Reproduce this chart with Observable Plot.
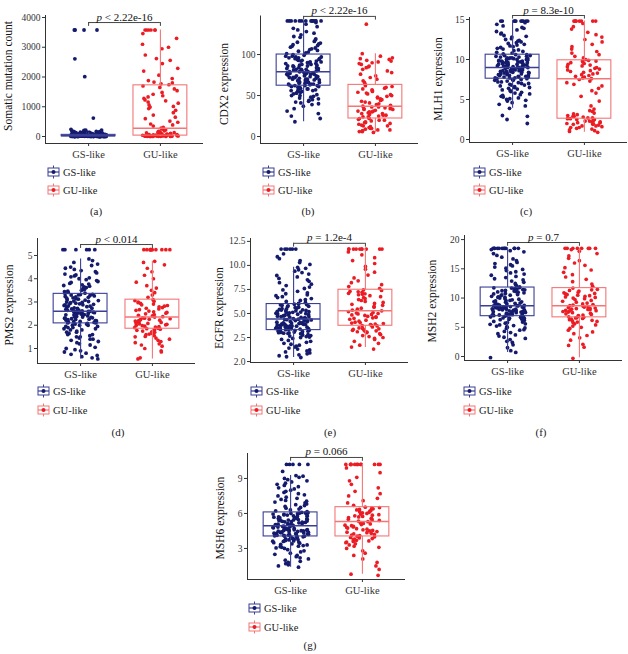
<!DOCTYPE html>
<html><head><meta charset="utf-8">
<script src="https://cdn.jsdelivr.net/npm/d3@7"></script>
<script src="https://cdn.jsdelivr.net/npm/@observablehq/plot@0.6"></script>
<style>
body{margin:0;background:#fff;}
#wrap{position:relative;width:628px;height:654px;overflow:hidden;font-family:"Liberation Serif","Times New Roman",serif;background:#fff;}
.ytitle{position:absolute;transform:translate(-50%,-50%) rotate(-90deg);white-space:nowrap;font-size:11.5px;color:#111;}
.leg{position:absolute;font-size:10.5px;color:#222;display:flex;align-items:center;height:14px;transform:translateY(-50%);}
.leg svg{margin-right:3px;}
.lab{position:absolute;font-size:11px;color:#222;transform:translate(-50%,-50%);}
</style></head><body><div id="wrap"></div><script>
const groups = ["GS-like", "GU-like"];

// (a) Somatic mutation count
const mutGS = [0,0,0,0,1,1,1,1,2,2,2,3,3,3,4,4,4,5,5,5,6,6,6,7,7,8,8,8,9,9,10,10,11,11,12,12,13,13,14,14,15,15,16,16,17,18,18,19,19,20,21,21,22,23,23,24,25,26,26,27,28,29,30,30,31,32,33,34,35,36,37,38,39,40,41,42,43,45,46,47,48,50,51,52,54,55,57,58,60,61,63,65,66,68,70,72,74,76,78,80,82,84,87,89,92,95,98,101,104,107,110,114,118,122,126,131,136,141,147,153,159,166,173,180,188,196,205,215,2,5,9,14,20,27,33,41,50,12,3,7,18,25,36,44,1,4,6,10,15,22,30,38,47,60,75,95,130,170,210,240,160,110,85,620,2010,2610,3580,3580,3580,3580];
const mutGU = [0,1,2,3,4,5,6,7,8,9,10,12,14,15,17,19,20,22,25,27,30,32,35,38,40,43,46,50,54,58,62,66,70,75,80,86,92,100,110,120,130,145,160,175,190,220,250,280,310,350,390,420,480,520,600,650,720,800,880,940,990,1010,1060,1120,1160,1200,1230,1280,1330,1370,1420,1480,1540,1600,1650,1700,1740,1770,1800,1830,1880,1950,2060,2200,2290,2450,2560,2620,2740,2950,3000,3100,3300,3460,3580,3580,3580,3580,3580,3580];
const mutBoxGS = [0, 8, 25, 55, 125];
const mutBoxGU = [0, 30, 280, 1720, 3580];
const mutTicks = [0, 1000, 2000, 3000, 4000];
const mutTickLabels = ["0", "1000", "2000", "3000", "4000"];

// (b) CDX2
const cdx2GS = [18,22,25,28,31,34,37,39,40,41,42,43,44,45,46,47,48,49,50,50,51,52,53,53,54,55,55,56,56,57,57,58,58,59,59,60,60,61,61,62,62,62,63,63,64,64,64,65,65,66,66,66,67,67,68,68,68,69,69,70,70,70,71,71,72,72,72,73,73,74,74,74,75,75,76,76,76,77,77,77,78,78,78,79,79,79,80,80,81,81,82,82,82,83,83,84,84,85,85,86,86,86,87,87,88,88,89,89,90,90,91,91,92,92,93,93,94,94,95,95,96,96,97,97,98,98,99,100,101,102,103,104,105,106,107,108,109,110,111,112,113,114,115,116,118,119,121,122,124,126,128,130,132,134,137,139,141,141,141,141,141,141,141,141,141,141,141,141,141,141];
const cdx2GU = [5,6,6,7,7,8,8,9,10,10,11,12,13,13,14,15,16,17,17,18,19,20,20,21,22,22,23,24,24,25,26,26,27,28,28,29,30,30,31,31,32,33,33,34,34,35,35,36,36,37,38,39,40,41,42,43,44,45,46,47,48,49,50,51,52,53,54,55,56,57,58,59,60,61,62,64,66,68,70,72,74,76,78,80,82,84,85,86,88,89,90,91,92,93,94,95,96,98,101,137];
const cdx2BoxGS = [18, 62, 79, 100, 141];
const cdx2BoxGU = [5, 22, 37, 63, 101];
const cdx2Ticks = [0, 50, 100];
const cdx2TickLabels = ["0", "50", "100"];

// (c) MLH1
const mlh1GS = [2.0,2.5,2.9,3.0,3.9,4.2,4.4,4.6,4.8,4.9,5.0,5.1,5.2,5.3,5.4,5.5,5.6,5.7,5.8,5.9,6.0,6.1,6.2,6.3,6.4,6.5,6.5,6.6,6.7,6.8,6.8,6.9,7.0,7.0,7.1,7.2,7.2,7.3,7.4,7.4,7.5,7.5,7.6,7.6,7.7,7.7,7.7,7.8,7.8,7.8,7.9,7.9,8.0,8.0,8.0,8.1,8.1,8.1,8.2,8.2,8.3,8.3,8.3,8.4,8.4,8.4,8.5,8.5,8.5,8.6,8.6,8.6,8.7,8.7,8.7,8.8,8.8,8.8,8.9,8.9,8.9,9.0,9.0,9.0,9.0,9.1,9.1,9.1,9.2,9.2,9.2,9.3,9.3,9.3,9.4,9.4,9.4,9.5,9.5,9.5,9.6,9.6,9.6,9.7,9.7,9.7,9.8,9.8,9.8,9.9,9.9,10.0,10.0,10.0,10.1,10.1,10.1,10.2,10.2,10.2,10.3,10.3,10.4,10.4,10.5,10.5,10.6,10.6,10.7,10.8,10.9,11.0,11.1,11.2,11.3,11.4,11.5,11.6,11.7,11.8,11.9,12.0,12.1,12.2,12.3,12.4,12.5,12.6,12.8,12.9,13.0,13.2,13.3,13.5,13.7,13.9,14.0,14.2,14.4,14.6,14.8,14.8,14.8,14.8,14.8,14.8,14.8,14.8,14.8,14.8];
const mlh1GU = [0.9,1.0,1.1,1.2,1.3,1.4,1.5,1.5,1.6,1.7,1.7,1.8,1.9,1.9,2.0,2.0,2.1,2.1,2.2,2.2,2.3,2.3,2.4,2.5,2.5,2.6,2.6,2.7,2.7,2.8,2.9,2.9,3.0,3.1,3.2,3.3,3.5,3.6,3.8,4.2,4.8,5.4,5.8,6.1,6.4,6.7,6.9,7.1,7.3,7.5,7.6,7.7,7.8,7.9,8.0,8.1,8.2,8.3,8.4,8.5,8.6,8.7,8.8,8.9,9.0,9.1,9.2,9.3,9.4,9.5,9.6,9.7,9.8,9.8,9.9,10.0,10.2,10.4,10.6,10.8,11.0,11.3,11.6,11.9,12.2,12.5,12.8,13.1,13.4,13.8,14.1,14.5,14.8,14.8,14.8,14.8,14.8,14.8,14.8,14.8];
const mlh1BoxGS = [3.9, 7.6, 9.0, 10.6, 14.8];
const mlh1BoxGU = [0.9, 2.6, 7.6, 9.9, 14.8];
const mlh1Ticks = [0, 5, 10, 15];
const mlh1TickLabels = ["0", "5", "10", "15"];

// (d) PMS2
const pms2GS = [0.55,0.6,0.65,0.7,0.75,0.8,0.85,0.9,0.95,1.0,1.05,1.15,1.2,1.25,1.3,1.35,1.4,1.4,1.45,1.5,1.5,1.55,1.6,1.6,1.65,1.7,1.7,1.75,1.8,1.8,1.85,1.85,1.9,1.9,1.95,1.95,2.0,2.0,2.0,2.05,2.05,2.08,2.1,2.1,2.12,2.14,2.15,2.16,2.18,2.2,2.2,2.22,2.24,2.25,2.26,2.28,2.3,2.3,2.32,2.34,2.35,2.36,2.38,2.4,2.4,2.42,2.44,2.45,2.46,2.48,2.5,2.5,2.51,2.52,2.53,2.54,2.55,2.56,2.57,2.58,2.58,2.59,2.6,2.6,2.6,2.62,2.64,2.65,2.67,2.68,2.7,2.72,2.73,2.75,2.77,2.78,2.8,2.82,2.83,2.85,2.87,2.88,2.9,2.92,2.93,2.95,2.97,2.98,3.0,3.02,3.04,3.06,3.08,3.1,3.12,3.14,3.16,3.18,3.2,3.22,3.24,3.26,3.28,3.3,3.31,3.32,3.33,3.35,3.38,3.41,3.44,3.47,3.5,3.53,3.56,3.59,3.62,3.65,3.68,3.71,3.74,3.77,3.8,3.84,3.88,3.92,3.96,4.0,4.04,4.08,4.12,4.16,4.2,4.25,4.3,4.35,4.4,4.45,4.5,4.57,4.63,4.7,4.78,4.85,5.25,5.25,5.25,5.25,5.25,5.25];
const pms2GU = [0.55,0.6,0.85,0.9,1.0,1.1,1.15,1.2,1.25,1.3,1.35,1.4,1.45,1.5,1.52,1.55,1.6,1.62,1.65,1.7,1.72,1.75,1.78,1.8,1.83,1.85,1.87,1.9,1.92,1.94,1.96,1.98,2.0,2.02,2.04,2.06,2.08,2.1,2.12,2.14,2.16,2.18,2.2,2.22,2.24,2.26,2.28,2.3,2.32,2.35,2.37,2.4,2.43,2.46,2.49,2.52,2.55,2.58,2.61,2.64,2.67,2.7,2.73,2.76,2.79,2.82,2.85,2.88,2.91,2.94,2.97,3.0,3.03,3.06,3.1,3.2,3.3,3.4,3.5,3.6,3.7,3.85,4.0,4.15,4.3,4.45,4.6,4.7,4.75,5.25,5.25,5.25,5.25,5.25,5.25,5.25,5.25,5.25,5.25,5.25];
const pms2BoxGS = [0.55, 2.08, 2.6, 3.35, 4.85];
const pms2BoxGU = [0.55, 1.85, 2.35, 3.1, 4.75];
const pms2Ticks = [1, 2, 3, 4, 5];
const pms2TickLabels = ["1", "2", "3", "4", "5"];

// (e) EGFR (bottom tick is labelled "2.0" in the original)
const egfrGS = [0.42,0.5,0.6,0.7,0.8,0.9,1.0,1.1,1.2,1.3,1.4,1.5,1.6,1.7,1.8,1.9,2.0,2.1,2.2,2.3,2.4,2.5,2.55,2.6,2.65,2.7,2.75,2.8,2.85,2.9,2.92,2.95,2.98,3.0,3.03,3.06,3.1,3.13,3.16,3.2,3.23,3.26,3.3,3.32,3.35,3.38,3.4,3.42,3.45,3.48,3.5,3.52,3.55,3.58,3.6,3.62,3.65,3.68,3.7,3.72,3.75,3.78,3.8,3.82,3.85,3.88,3.9,3.92,3.95,3.98,4.0,4.03,4.06,4.1,4.13,4.16,4.2,4.23,4.26,4.3,4.33,4.36,4.38,4.4,4.42,4.45,4.48,4.52,4.55,4.58,4.62,4.65,4.68,4.72,4.75,4.78,4.82,4.85,4.88,4.92,4.95,4.98,5.02,5.05,5.08,5.12,5.15,5.18,5.22,5.25,5.28,5.32,5.35,5.38,5.42,5.45,5.5,5.55,5.6,5.65,5.7,5.75,5.8,5.85,5.9,5.93,5.96,5.98,6.05,6.15,6.25,6.35,6.45,6.55,6.65,6.75,6.85,6.95,7.05,7.15,7.3,7.45,7.6,7.75,7.9,8.05,8.2,8.35,8.5,8.65,8.8,8.95,9.1,9.25,9.4,9.55,9.7,9.8,10.1,10.3,10.5,10.7,10.9,11.2,11.7,11.7,11.7,11.7,11.7,11.7];
const egfrGU = [1.3,1.5,1.7,1.9,2.1,2.3,2.4,2.5,2.6,2.7,2.8,2.9,3.0,3.05,3.1,3.15,3.2,3.25,3.3,3.35,3.4,3.45,3.5,3.6,3.7,3.75,3.8,3.85,3.9,3.95,4.0,4.05,4.1,4.2,4.3,4.4,4.5,4.55,4.6,4.65,4.7,4.8,4.85,4.9,4.95,5.0,5.05,5.1,5.2,5.28,5.35,5.45,5.55,5.65,5.75,5.85,5.95,6.05,6.15,6.25,6.35,6.45,6.55,6.65,6.75,6.85,6.95,7.0,7.05,7.1,7.2,7.25,7.3,7.4,7.45,7.6,7.8,8.0,8.2,8.4,8.7,9.0,9.3,9.6,9.9,10.2,10.5,10.8,11.1,11.4,11.7,11.7,11.7,11.7,11.7,11.7,11.7,11.7,11.7,11.7];
const egfrBoxGS = [0.42, 3.27, 4.42, 5.98, 9.8];
const egfrBoxGU = [1.46, 3.72, 5.28, 7.47, 11.7];
const egfrTicks = [0, 2.5, 5, 7.5, 10, 12.5];
const egfrTickLabels = ["2.0", "2.5", "5.0", "7.5", "10.0", "12.5"];

// (f) MSH2
const msh2GS = [-0.2,0.7,1.0,1.5,2.0,2.4,2.6,2.9,3.1,3.3,3.5,3.7,3.9,4.1,4.3,4.5,4.6,4.8,4.9,5.0,5.1,5.2,5.3,5.4,5.5,5.6,5.7,5.8,5.9,6.0,6.1,6.2,6.3,6.35,6.4,6.5,6.55,6.6,6.7,6.75,6.8,6.85,6.9,6.95,7.0,7.05,7.1,7.15,7.2,7.25,7.3,7.35,7.4,7.45,7.5,7.55,7.6,7.65,7.7,7.75,7.8,7.85,7.9,7.95,8.0,8.02,8.05,8.1,8.12,8.15,8.2,8.25,8.3,8.32,8.35,8.4,8.45,8.5,8.52,8.55,8.6,8.62,8.65,8.68,8.7,8.75,8.8,8.9,8.95,9.0,9.1,9.15,9.2,9.3,9.35,9.4,9.5,9.55,9.6,9.7,9.8,9.9,10.0,10.1,10.15,10.2,10.3,10.4,10.5,10.55,10.6,10.7,10.8,10.9,11.0,11.05,11.1,11.2,11.25,11.3,11.4,11.45,11.5,11.55,11.6,11.7,11.75,11.8,11.9,12.1,12.3,12.5,12.7,12.9,13.1,13.3,13.5,13.7,13.9,14.1,14.3,14.5,14.7,14.9,15.1,15.3,15.5,15.7,15.9,16.1,16.4,16.7,17.0,17.3,17.6,17.9,18.1,18.3,18.5,18.5,18.5,18.5,18.5,18.5,18.5,18.5,18.5,18.5,18.5,18.5];
const msh2GU = [-0.3,1.6,1.9,2.1,2.8,3.2,3.6,3.9,4.2,4.5,4.8,5.0,5.2,5.4,5.6,5.8,5.9,6.0,6.1,6.2,6.3,6.4,6.5,6.6,6.65,6.7,6.8,6.9,7.0,7.1,7.2,7.3,7.4,7.5,7.6,7.7,7.8,7.85,7.9,8.0,8.05,8.1,8.2,8.25,8.3,8.4,8.45,8.5,8.6,8.7,8.8,8.9,9.0,9.15,9.3,9.45,9.6,9.75,9.9,10.0,10.1,10.2,10.3,10.4,10.5,10.6,10.7,10.8,10.9,11.0,11.2,11.3,11.4,11.5,11.7,12.0,12.4,12.8,13.2,13.6,14.0,14.4,14.8,15.2,15.6,16.0,16.4,16.8,17.2,17.6,18.0,18.3,18.5,18.5,18.5,18.5,18.5,18.5,18.5,18.5];
const msh2BoxGS = [0.7, 6.9, 8.7, 11.8, 18.5];
const msh2BoxGU = [-0.2, 6.7, 8.7, 11.7, 18.5];
const msh2Ticks = [0, 5, 10, 15, 20];
const msh2TickLabels = ["0", "5", "10", "15", "20"];

// (g) MSH6
const msh6GS = [1.4,1.5,1.6,1.7,1.8,1.9,2.0,2.1,2.2,2.3,2.4,2.5,2.6,2.7,2.8,2.9,3.0,3.05,3.1,3.15,3.2,3.25,3.3,3.35,3.4,3.45,3.5,3.55,3.6,3.62,3.65,3.68,3.7,3.73,3.76,3.8,3.83,3.86,3.9,3.93,3.96,4.0,4.03,4.05,4.07,4.09,4.11,4.13,4.15,4.17,4.19,4.21,4.23,4.25,4.27,4.29,4.31,4.33,4.35,4.37,4.4,4.42,4.44,4.46,4.48,4.5,4.52,4.54,4.56,4.58,4.6,4.62,4.64,4.66,4.68,4.7,4.72,4.74,4.77,4.8,4.83,4.86,4.89,4.92,4.95,4.98,5.0,5.03,5.05,5.08,5.1,5.13,5.15,5.18,5.2,5.23,5.25,5.28,5.3,5.33,5.35,5.38,5.4,5.43,5.45,5.48,5.5,5.53,5.56,5.59,5.62,5.65,5.68,5.71,5.74,5.77,5.8,5.83,5.86,5.89,5.92,5.95,5.98,6.0,6.02,6.04,6.07,6.09,6.15,6.22,6.3,6.38,6.45,6.52,6.6,6.68,6.75,6.82,6.9,6.98,7.05,7.12,7.2,7.3,7.4,7.5,7.6,7.7,7.8,7.9,8.0,8.1,8.2,8.3,8.4,8.5,8.6,8.7,8.8,8.9,9.0,9.1,9.2,9.25,9.6,10.2,10.2,10.2,10.2,10.2];
const msh6GU = [0.7,0.8,1.2,1.5,1.8,2.1,2.4,2.6,2.8,3.0,3.1,3.2,3.3,3.4,3.5,3.55,3.6,3.65,3.7,3.75,3.8,3.85,3.9,3.95,4.0,4.05,4.1,4.15,4.2,4.25,4.3,4.35,4.4,4.45,4.5,4.55,4.6,4.65,4.7,4.75,4.8,4.85,4.9,4.95,5.0,5.05,5.1,5.15,5.2,5.3,5.35,5.4,5.45,5.5,5.55,5.6,5.65,5.7,5.75,5.8,5.85,5.9,5.95,6.0,6.05,6.1,6.15,6.2,6.25,6.3,6.35,6.4,6.45,6.5,6.54,6.7,6.9,7.1,7.3,7.5,7.7,7.9,8.2,8.5,8.8,9.1,9.5,9.9,10.2,10.2,10.2,10.2,10.2,10.2,10.2,10.2,10.2,10.2,10.2,10.2];
const msh6BoxGS = [1.4, 4.03, 4.95, 6.09, 9.25];
const msh6BoxGU = [0.8, 4.03, 5.31, 6.54, 10.2];
const msh6Ticks = [3, 6, 9];
const msh6TickLabels = ["3", "6", "9"];

const pValues = ["p < 2.22e-16", "p < 2.22e-16", "p = 8.3e-10", "p < 0.014", "p = 1.2e-4", "p = 0.7", "p = 0.066"];
const yTitles = ["Somatic mutation count", "CDX2 expression", "MLH1 expression", "PMS2 expression", "EGFR expression", "MSH2 expression", "MSH6 expression"];
const panelLabels = ["(a)", "(b)", "(c)", "(d)", "(e)", "(f)", "(g)"];

// colours
const ptGS = "#141a6c", lnGS = "#3a3f95";
const ptGU = "#ec1c24", lnGU = "#f37676";

// layout (pixel placement) for each panel
const panels = [
  {gs: mutGS, gu: mutGU, bGS: mutBoxGS, bGU: mutBoxGU, ticks: mutTicks, tl: mutTickLabels, left:0, top:0, x0:45, ytop:15, ybot:143, domain:[-235,4067], bY:3830, bD:130, tX:8, tY:76, legX:47, legY:[172,190], labX:96, labY:211},
  {gs: cdx2GS, gu: cdx2GU, bGS: cdx2BoxGS, bGU: cdx2BoxGU, ticks: cdx2Ticks, tl: cdx2TickLabels, left:210, top:0, x0:260, ytop:15.5, ybot:143, domain:[-8.5,147], bY:146.5, bD:4.5, tX:224, tY:84, legX:262, legY:[172,190], labX:308, labY:211},
  {gs: mlh1GS, gu: mlh1GU, bGS: mlh1BoxGS, bGU: mlh1BoxGU, ticks: mlh1Ticks, tl: mlh1TickLabels, left:418, top:0, x0:469, ytop:17, ybot:142, domain:[-0.375,15.25], bY:15.5, bD:0.45, tX:438, tY:79, legX:473, legY:[172,190], labX:526, labY:211},
  {gs: pms2GS, gu: pms2GU, bGS: pms2BoxGS, bGU: pms2BoxGU, ticks: pms2Ticks, tl: pms2TickLabels, left:0, top:220, x0:37, ytop:238, ybot:363, domain:[0.355,5.73], bY:5.47, bD:0.17, tX:9, tY:305, legX:37, legY:[391,410], labX:118, labY:432},
  {gs: egfrGS, gu: egfrGU, bGS: egfrBoxGS, bGU: egfrBoxGU, ticks: egfrTicks, tl: egfrTickLabels, left:210, top:220, x0:250, ytop:238, ybot:362, domain:[-0.1,12.8], bY:12.3, bD:0.4, tX:219, tY:308, legX:250, legY:[391,410], labX:330, labY:432},
  {gs: msh2GS, gu: msh2GU, bGS: msh2BoxGS, bGU: msh2BoxGU, ticks: msh2Ticks, tl: msh2TickLabels, left:418, top:220, x0:464, ytop:235, ybot:360, domain:[-0.68,20.7], bY:19.5, bD:0.65, tX:432, tY:301, legX:463, legY:[391,410], labX:541, labY:432},
  {gs: msh6GS, gu: msh6GU, bGS: msh6BoxGS, bGU: msh6BoxGU, ticks: msh6Ticks, tl: msh6TickLabels, left:200, top:440, x0:247, ytop:453, ybot:579, domain:[0.34,11.14], bY:10.8, bD:0.33, tX:220, tY:518, legX:248, legY:[608,627], labX:310, labY:645}
];

const wrap = document.getElementById("wrap");
const NS = "http://www.w3.org/2000/svg";
const JW = 0.25, BW = 0.375;
// deterministic horizontal spread for the jittered dots (layout only)
function jit(i) { const s = Math.sin(i * 127.1 + 311.7) * 43758.5453; return (s - Math.floor(s)) * 2 - 1; }

function boxMarks(g, s, col) {
  const d = [{g, lo: s[0], q1: s[1], med: s[2], q3: s[3], hi: s[4]}];
  return [
    Plot.ruleX(d, {x: "g", y1: "lo", y2: "q1", stroke: col, strokeWidth: 1.1}),
    Plot.ruleX(d, {x: "g", y1: "q3", y2: "hi", stroke: col, strokeWidth: 1.1}),
    Plot.rect(d, {x1: r => r.g - BW, x2: r => r.g + BW, y1: "q1", y2: "q3", fill: "none", stroke: col, strokeWidth: 1.1}),
    Plot.ruleY(d, {x1: r => r.g - BW, x2: r => r.g + BW, y: "med", stroke: col, strokeWidth: 1.5})
  ];
}

panels.forEach((c, k) => {
  const mL = c.x0 - c.left, mT = c.ytop - c.top;
  const W = mL + 162, H = c.ybot - c.top + 24;
  const ptsGS = c.gs.map((v, i) => ({x: 0 + JW * jit(i + 1000 * k), y: v}));
  const ptsGU = c.gu.map((v, i) => ({x: 1 + JW * jit(i + 500 + 1000 * k), y: v}));
  const svg = Plot.plot({
    width: W, height: H,
    marginLeft: mL, marginRight: 4, marginTop: mT, marginBottom: 24,
    x: {domain: [-0.6, 1.6]},
    y: {domain: c.domain},
    style: {fontFamily: "'Liberation Serif', 'Times New Roman', serif", background: "transparent", color: "#333", overflow: "visible"},
    marks: [
      Plot.dot(ptsGS, {x: "x", y: "y", r: 1.9, fill: ptGS}),
      Plot.dot(ptsGU, {x: "x", y: "y", r: 1.85, fill: ptGU}),
      ...boxMarks(0, c.bGS, lnGS),
      ...boxMarks(1, c.bGU, lnGU),
      Plot.ruleX([-0.6], {stroke: "#333", strokeWidth: 1}),
      Plot.ruleY([c.domain[0]], {stroke: "#333", strokeWidth: 1}),
      Plot.axisY({ticks: c.ticks, tickFormat: d => c.tl[c.ticks.indexOf(d)], tickSize: 3, tickPadding: 2, fontSize: 9.5, label: null}),
      Plot.axisX({ticks: [0, 1], tickFormat: d => groups[d], tickSize: 3, tickPadding: 4, fontSize: 10.5, label: null}),
      Plot.ruleY([c.bY], {x1: 0, x2: 1, stroke: "#444", strokeWidth: 1}),
      Plot.ruleX([0, 1], {y1: c.bY, y2: c.bY - c.bD, stroke: "#444", strokeWidth: 1}),
      Plot.text([pValues[k]], {x: 0.5, y: c.bY, text: d => d, lineAnchor: "bottom", dy: -2, fontSize: 11, fill: "#111"})
    ]
  });
  svg.style.position = "absolute";
  svg.style.left = c.left + "px";
  svg.style.top = c.top + "px";
  svg.querySelectorAll("text").forEach(t => {
    const s = t.textContent;
    if (s.startsWith("p ")) {
      t.textContent = "";
      const a = document.createElementNS(NS, "tspan");
      a.setAttribute("font-style", "italic");
      a.textContent = "p";
      const b = document.createElementNS(NS, "tspan");
      b.textContent = "\u00a0" + s.slice(2).replace(" ", "\u00a0");
      t.append(a, b);
    }
  });
  wrap.appendChild(svg);

  const tt = document.createElement("div");
  tt.className = "ytitle";
  tt.style.left = c.tX + "px"; tt.style.top = c.tY + "px";
  tt.textContent = yTitles[k];
  wrap.appendChild(tt);

  groups.forEach((g, gi) => {
    const pc = gi ? ptGU : ptGS, lc = gi ? lnGU : lnGS;
    const el = document.createElement("div");
    el.className = "leg";
    el.style.left = c.legX + "px"; el.style.top = c.legY[gi] + "px";
    el.innerHTML = `<svg width="13" height="14" viewBox="0 0 13 14"><line x1="6.5" y1="0.5" x2="6.5" y2="13.5" stroke="${lc}" stroke-width="1"/><rect x="1" y="3" width="11" height="8" fill="#fff" stroke="${lc}" stroke-width="1"/><line x1="1" y1="7" x2="12" y2="7" stroke="${lc}" stroke-width="1.2"/><circle cx="6.5" cy="7" r="2" fill="${pc}"/></svg><span>${g}</span>`;
    wrap.appendChild(el);
  });

  const lb = document.createElement("div");
  lb.className = "lab";
  lb.style.left = c.labX + "px"; lb.style.top = c.labY + "px";
  lb.textContent = panelLabels[k];
  wrap.appendChild(lb);
});
</script></body></html>
